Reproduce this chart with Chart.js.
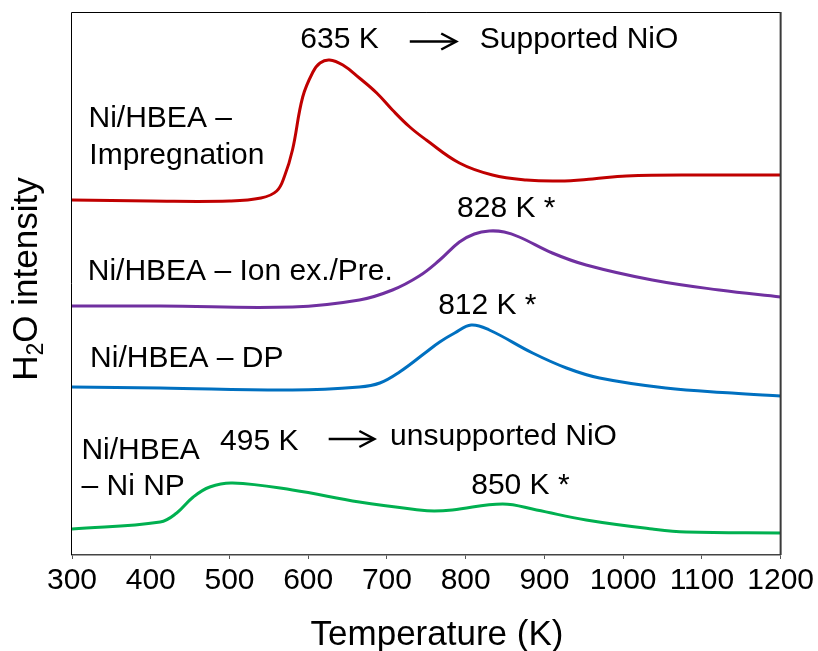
<!DOCTYPE html>
<html>
<head>
<meta charset="utf-8">
<title>H2O TPR profiles of Ni/HBEA catalysts</title>
<script src="https://cdn.jsdelivr.net/npm/chart.js@4/dist/chart.umd.min.js"></script>
<style>
  html, body { margin: 0; padding: 0; background: #fff; }
  #wrap { width: 818px; height: 651px; position: relative; }
</style>
</head>
<body>
<div id="wrap"><canvas id="tpr"></canvas></div>
<script>
// Temperature ticks (K)
const tickTemps = [300, 400, 500, 600, 700, 800, 900, 1000, 1100, 1200];

// H2O signal (a.u., stacked traces) versus temperature (K)
const impregnationK = [300, 400, 500, 540, 560, 570, 580, 593, 606, 615, 627, 644, 665, 687, 707, 729, 750, 792, 834, 877, 919, 961, 1004, 1100, 1200];
const impregnationI = [355, 354, 354, 357, 364, 379, 405, 458, 483, 492, 495, 490, 477, 462, 445, 428, 415, 392, 380, 375, 374, 376, 379, 380, 380];

const ionExK = [300, 412, 580, 665, 707, 741, 767, 792, 811, 830, 849, 868, 910, 953, 1037, 1122, 1200];
const ionExI = [249, 249, 248, 255, 265, 279, 295, 313, 321, 324, 323, 318, 302, 290, 275, 265, 258];

const dpK = [300, 412, 580, 665, 691, 716, 750, 767, 786, 807, 830, 885, 928, 970, 1054, 1138, 1200];
const dpI = [168, 167, 165, 168, 172, 183, 203, 213, 222, 230, 225, 202, 187, 177, 167, 162, 159];

const npK = [300, 412, 433, 454, 475, 504, 580, 665, 741, 760, 783, 847, 890, 953, 1037, 1080, 1200];
const npI = [26, 33, 42, 58, 68, 72, 65, 53, 45, 44, 45, 51, 45, 35, 26, 23, 22];

const seriesNames = ['Ni/HBEA – Impregnation', 'Ni/HBEA – Ion ex./Pre.', 'Ni/HBEA – DP', 'Ni/HBEA – Ni NP'];
const seriesColors = ['#C00000', '#7030A0', '#0070C0', '#00B050'];

// Text annotations placed in data coordinates (K, a.u.)
const notes = [
  { text: '635 K', k: 590, v: 515 },
  { text: 'Supported NiO', k: 818, v: 515 },
  { text: 'Ni/HBEA –', k: 321, v: 436.5 },
  { text: 'Impregnation', k: 322, v: 399 },
  { text: '828 K *', k: 789, v: 346.5 },
  { text: 'Ni/HBEA – Ion ex./Pre.', k: 320, v: 283 },
  { text: '812 K *', k: 765, v: 249 },
  { text: 'Ni/HBEA – DP', k: 323, v: 196 },
  { text: 'Ni/HBEA', k: 312, v: 104 },
  { text: '– Ni NP', k: 312, v: 68 },
  { text: '495 K', k: 488, v: 113 },
  { text: 'unsupported NiO', k: 704, v: 118 },
  { text: '850 K *', k: 807, v: 69 }
];
const arrows = [
  { k1: 729, k2: 788, v: 513.5 },
  { k1: 626, k2: 684, v: 116 }
];

const FONT = '"Liberation Sans", Arial, sans-serif';

function toPoints(ks, vs) { return ks.map((k, i) => ({ x: k, y: vs[i] })); }

const datasets = [
  [impregnationK, impregnationI],
  [ionExK, ionExI],
  [dpK, dpI],
  [npK, npI]
].map((pair, i) => ({
  label: seriesNames[i],
  data: toPoints(pair[0], pair[1]),
  borderColor: seriesColors[i],
  borderWidth: 3,
  pointRadius: 0,
  fill: false,
  tension: 0.4
}));

const decorations = {
  id: 'decorations',
  afterDatasetsDraw(chart) {
    const { ctx, chartArea: a, scales: { x, y } } = chart;
    ctx.save();
    // frame: left, top and right edges
    ctx.strokeStyle = '#000';
    ctx.lineWidth = 1;
    ctx.beginPath();
    ctx.moveTo(a.left - 0.5, a.bottom);
    ctx.lineTo(a.left - 0.5, a.top + 0.5);
    ctx.lineTo(a.right, a.top + 0.5);
    ctx.stroke();
    ctx.strokeStyle = '#3a3a3a';
    ctx.lineWidth = 2;
    ctx.beginPath();
    ctx.moveTo(a.right, a.top);
    ctx.lineTo(a.right, a.bottom);
    ctx.stroke();

    // annotations
    ctx.fillStyle = '#000';
    ctx.font = '30px ' + FONT;
    ctx.textBaseline = 'middle';
    ctx.textAlign = 'left';
    notes.forEach(n => {
      ctx.fillText(n.text, x.getPixelForValue(n.k), y.getPixelForValue(n.v));
    });

    // arrows
    ctx.strokeStyle = '#000';
    ctx.lineWidth = 2.5;
    ctx.lineCap = 'butt';
    arrows.forEach(ar => {
      const x1 = x.getPixelForValue(ar.k1), x2 = x.getPixelForValue(ar.k2), yy = y.getPixelForValue(ar.v);
      ctx.beginPath();
      ctx.moveTo(x1, yy);
      ctx.lineTo(x2 - 1, yy);
      ctx.stroke();
      ctx.beginPath();
      ctx.moveTo(x2 - 15, yy - 8);
      ctx.lineTo(x2, yy);
      ctx.lineTo(x2 - 15, yy + 8);
      ctx.stroke();
    });

    // x-axis title
    ctx.font = '35px ' + FONT;
    ctx.textAlign = 'center';
    ctx.textBaseline = 'alphabetic';
    ctx.fillText('Temperature (K)', 437, 645);

    // y-axis title with subscript
    const big = '35px ' + FONT, small = '23px ' + FONT;
    ctx.font = big;
    const wH = ctx.measureText('H').width;
    const wRest = ctx.measureText('O intensity').width;
    ctx.font = small;
    const w2 = ctx.measureText('2').width;
    const total = wH + w2 + wRest;
    ctx.translate(36.5, 279);
    ctx.rotate(-Math.PI / 2);
    ctx.textAlign = 'left';
    let cx = -total / 2;
    ctx.font = big;
    ctx.fillText('H', cx, 0);
    cx += wH;
    ctx.font = small;
    ctx.fillText('2', cx, 6);
    cx += w2;
    ctx.font = big;
    ctx.fillText('O intensity', cx, 0);
    ctx.restore();
  }
};

new Chart(document.getElementById('tpr'), {
  type: 'line',
  data: { datasets },
  options: {
    responsive: true,
    maintainAspectRatio: false,
    animation: false,
    layout: { padding: { left: 72, right: 36, top: 12, bottom: 0 } },
    plugins: { legend: { display: false }, tooltip: { enabled: false } },
    scales: {
      x: {
        type: 'linear',
        min: tickTemps[0],
        max: tickTemps[tickTemps.length - 1],
        afterBuildTicks: s => { s.ticks = tickTemps.map(v => ({ value: v })); },
        afterFit: s => { s.height = 96; },
        border: { display: true, color: '#444', width: 1.5 },
        grid: { display: true, drawOnChartArea: false, drawTicks: true, tickLength: 4, color: '#555', lineWidth: 1 },
        ticks: {
          color: '#000',
          font: { family: FONT, size: 30 },
          padding: 4,
          maxRotation: 0,
          autoSkip: false,
          callback: v => String(v)
        }
      },
      y: {
        display: false,
        min: 0,
        max: 543
      }
    }
  },
  plugins: [decorations]
});
</script>
</body>
</html>
